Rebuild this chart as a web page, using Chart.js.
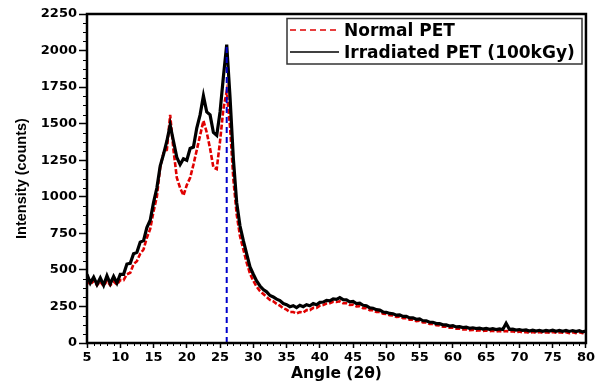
<!DOCTYPE html>
<html>
<head>
<meta charset="utf-8">
<title>PET XRD</title>
<script src="https://cdn.jsdelivr.net/npm/chart.js@4.4.0/dist/chart.umd.min.js"></script>
<style>
  body { margin: 0; background: #fff; }
  canvas { display: block; }
</style>
</head>
<body>
<canvas id="xrdChart" width="597" height="385"></canvas>
<script>
'use strict';

// angle grid: 5 to 80 deg (2theta), every 0.5 deg
const angleStart = 5;
const angleStep = 0.5;

const seriesNames = ['Normal PET', 'Irradiated PET (100kGy)'];

// intensity, one value per 0.5 deg
const normalPet = [
  430, 400, 425, 395, 420, 390, 425, 395, 420, 400,
  430, 430, 470, 480, 540, 560, 610, 640, 720, 780,
  900, 1000, 1200, 1300, 1320, 1560, 1320, 1130, 1060, 1010,
  1080, 1130, 1220, 1320, 1420, 1520, 1440, 1330, 1200, 1190,
  1380, 1600, 1720, 1480, 1120, 880, 730, 640, 550, 475,
  425, 385, 355, 335, 315, 295, 285, 268, 255, 238,
  228, 212, 212, 202, 212, 208, 225, 225, 240, 240,
  255, 260, 270, 272, 282, 280, 285, 272, 272, 260,
  262, 250, 252, 238, 238, 225, 224, 212, 212, 200,
  198, 190, 188, 178, 180, 170, 170, 160, 160, 150,
  152, 140, 140, 130, 130, 122, 120, 112, 112, 104,
  105, 98, 99, 92, 94, 88, 90, 85, 88, 82,
  86, 80, 84, 78, 82, 78, 82, 78, 80, 74,
  78, 72, 76, 70, 75, 70, 75, 70, 74, 70,
  76, 70, 74, 70, 74, 68, 74, 68, 74, 68,
  72
];

const irradiatedPet = [
  470, 410, 450, 400, 445, 395, 460, 405, 455, 410,
  470, 470, 540, 545, 610, 620, 690, 700, 790, 840,
  960, 1060, 1210, 1290, 1380, 1490, 1380, 1270, 1220, 1260,
  1250, 1330, 1340, 1470, 1560, 1690, 1580, 1560, 1440, 1420,
  1580, 1820, 2040, 1680, 1260, 960, 800, 700, 610, 520,
  470, 425, 390, 365, 350, 325, 315, 300, 290, 270,
  262, 248, 255, 242, 258, 248, 262, 255, 270, 262,
  278, 280, 292, 288, 302, 298, 310, 296, 295, 282,
  285, 270, 272, 258, 255, 240, 238, 228, 225, 212,
  210, 202, 200, 190, 192, 182, 182, 172, 172, 162,
  165, 152, 152, 142, 142, 133, 132, 124, 124, 116,
  118, 110, 112, 105, 108, 100, 104, 98, 102, 95,
  100, 93, 98, 92, 96, 92, 135, 94, 95, 88,
  92, 86, 90, 82, 88, 82, 87, 80, 86, 82,
  88, 80, 86, 80, 86, 79, 85, 78, 84, 76,
  82
];

// main peak marker
const peakAngle = 26;
const peakTop = 2040;

function toPoints(values) {
  const pts = [];
  for (let i = 0; i < values.length; i++) {
    pts.push({x: angleStart + i * angleStep, y: values[i]});
  }
  return pts;
}

const tickFont = {family: 'DejaVu Sans', weight: 'bold', size: 13};

// frame, minor ticks and the boxed legend
const framePlugin = {
  id: 'frame',
  afterDraw(chart) {
    const ctx = chart.ctx;
    const a = chart.chartArea;
    const x = chart.scales.x;
    const y = chart.scales.y;
    ctx.save();
    ctx.strokeStyle = '#000';
    ctx.lineWidth = 1;
    ctx.beginPath();
    for (let v = 5; v <= 80; v += 1) {
      if (v % 5 !== 0) {
        const px = Math.round(x.getPixelForValue(v)) + 0.5;
        ctx.moveTo(px, a.bottom);
        ctx.lineTo(px, a.bottom + 3);
      }
    }
    for (let v = 0; v <= 2250; v += 62.5) {
      if (v % 250 !== 0) {
        const py = Math.round(y.getPixelForValue(v)) + 0.5;
        ctx.moveTo(a.left - 4, py);
        ctx.lineTo(a.left, py);
      }
    }
    ctx.stroke();

    ctx.lineWidth = 2.5;
    ctx.strokeRect(a.left, a.top, a.right - a.left, a.bottom - a.top);

    // legend
    const red = chart.data.datasets[2];
    const black = chart.data.datasets[1];
    ctx.lineWidth = 1.5;
    ctx.strokeStyle = '#333';
    ctx.strokeRect(287, 18.5, 295, 45.5);

    ctx.lineWidth = 1.5;
    ctx.strokeStyle = red.borderColor;
    ctx.setLineDash([6, 4]);
    ctx.beginPath();
    ctx.moveTo(290, 30);
    ctx.lineTo(339, 30);
    ctx.stroke();
    ctx.setLineDash([]);
    ctx.strokeStyle = black.borderColor;
    ctx.beginPath();
    ctx.moveTo(290, 52);
    ctx.lineTo(339, 52);
    ctx.stroke();

    ctx.fillStyle = '#000';
    ctx.font = 'bold 17px "DejaVu Sans"';
    ctx.textBaseline = 'alphabetic';
    ctx.fillText(red.label, 344, 36);
    ctx.fillText(black.label, 344, 57.5);
    ctx.restore();
  }
};

const ctx = document.getElementById('xrdChart').getContext('2d');

const chart = new Chart(ctx, {
  type: 'line',
  data: {
    datasets: [
      {
        label: 'peak',
        data: [{x: peakAngle, y: 0}, {x: peakAngle, y: peakTop}],
        borderColor: '#0000cc',
        borderWidth: 2,
        borderDash: [6, 4],
        pointRadius: 0
      },
      {
        label: seriesNames[1],
        data: toPoints(irradiatedPet),
        borderColor: '#000000',
        borderWidth: 3.2,
        pointRadius: 0,
        tension: 0
      },
      {
        label: seriesNames[0],
        data: toPoints(normalPet),
        borderColor: '#e00000',
        borderWidth: 2.6,
        borderDash: [5, 2],
        pointRadius: 0,
        tension: 0
      }
    ]
  },
  options: {
    responsive: false,
    animation: false,
    layout: {padding: {top: 14, right: 10, left: 0, bottom: 0}},
    plugins: {
      legend: {display: false},
      tooltip: {enabled: false}
    },
    scales: {
      x: {
        type: 'linear',
        min: 5,
        max: 80,
        ticks: {stepSize: 5, color: '#000', font: tickFont, padding: 2, maxRotation: 0},
        grid: {drawOnChartArea: false, tickLength: 5, tickWidth: 1.5, tickColor: '#000'},
        border: {display: false},
        title: {
          display: true,
          text: 'Angle (2θ)',
          color: '#000',
          font: {family: 'DejaVu Sans', weight: 'bold', size: 15.5},
          padding: {top: 0, bottom: 2}
        },
        afterFit(scale) { scale.height = 42; }
      },
      y: {
        min: 0,
        max: 2250,
        ticks: {
          stepSize: 250,
          color: '#000',
          font: tickFont,
          padding: 2,
          callback: (value) => String(value)
        },
        grid: {drawOnChartArea: false, tickLength: 8, tickWidth: 1.5, tickColor: '#000'},
        border: {display: false},
        title: {
          display: true,
          text: 'Intensity (counts)',
          color: '#000',
          font: {family: 'Liberation Sans', weight: 'bold', size: 14.5},
          padding: {top: 13, bottom: 0}
        },
        afterFit(scale) { scale.width = 87; }
      }
    }
  },
  plugins: [framePlugin]
});
</script>
</body>
</html>
